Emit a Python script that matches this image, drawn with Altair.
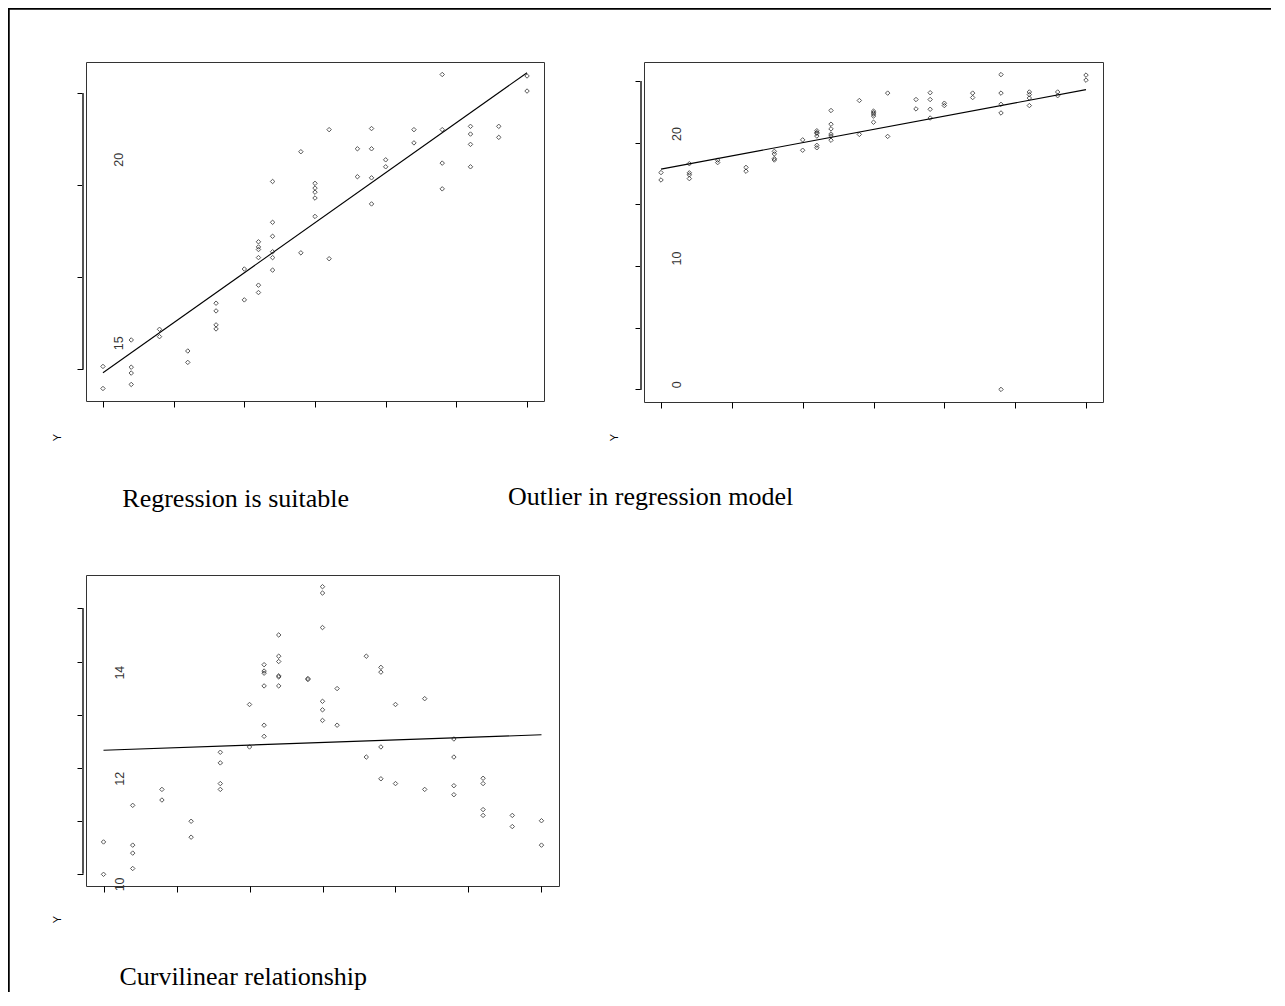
import altair as alt
import pandas as pd

# ---------------- data ----------------
# Panel 1 / 2 : "Regression is suitable" (same cloud, panel 2 adds one outlier)
x_fit = [0, 0,
         2, 2, 2, 2,
         4, 4,
         6, 6,
         8, 8, 8, 8,
         10, 10,
         11, 11, 11, 11, 11, 11,
         12, 12, 12, 12, 12, 12,
         14, 14,
         15, 15, 15, 15, 15,
         16, 16,
         18, 18,
         19, 19, 19, 19,
         20, 20,
         22, 22,
         24, 24, 24, 24,
         26, 26, 26, 26,
         28, 28,
         30, 30]
y_fit = [17.57, 16.97,
         18.29, 17.55, 17.39, 17.08,
         18.58, 18.38,
         17.99, 17.68,
         19.29, 19.08, 18.70, 18.59,
         20.22, 19.38,
         20.96, 20.82, 20.75, 20.53, 19.78, 19.58,
         22.60, 21.49, 21.11, 20.69, 20.53, 20.19,
         23.41, 20.66,
         22.55, 22.42, 22.31, 22.15, 21.65,
         24.01, 20.50,
         23.49, 22.73,
         24.04, 23.49, 22.70, 21.99,
         23.19, 23.00,
         24.01, 23.65,
         25.51, 24.01, 23.10, 22.40,
         24.10, 23.89, 23.61, 23.00,
         24.10, 23.80,
         25.47, 25.06]
x_outlier = [24]
y_outlier = [0.0]

# Panel 3 : "Curvilinear relationship"
x_curve = [0, 0,
           2, 2, 2, 2,
           4, 4,
           6, 6,
           8, 8, 8, 8,
           10, 10,
           11, 11, 11, 11, 11, 11,
           12, 12, 12, 12, 12, 12,
           14, 14,
           15, 15, 15, 15, 15, 15,
           16, 16,
           18, 18,
           19, 19, 19, 19,
           20, 20,
           22, 22,
           24, 24, 24, 24,
           26, 26, 26, 26,
           28, 28,
           30, 30]
y_curve = [10.60, 9.99,
           11.29, 10.54, 10.39, 10.10,
           11.59, 11.39,
           10.99, 10.69,
           12.29, 12.09, 11.70, 11.59,
           13.19, 12.39,
           13.94, 13.82, 13.78, 13.54, 12.80, 12.59,
           14.50, 14.10, 14.00, 13.73, 13.71, 13.54,
           13.68, 13.66,
           15.41, 15.29, 14.64, 13.25, 13.09, 12.89,
           13.49, 12.80,
           14.10, 12.20,
           13.89, 13.80, 12.39, 11.79,
           13.19, 11.70,
           13.30, 11.59,
           12.54, 12.20, 11.66, 11.49,
           11.80, 11.70, 11.21, 11.10,
           11.10, 10.89,
           11.00, 10.54]

x_ticks = [0, 5, 10, 15, 20, 25, 30]
y_ticks_1 = [17.5, 20, 22.5, 25]
y_ticks_2 = [0, 5, 10, 15, 20, 25]
y_ticks_3 = [10, 11, 12, 13, 14, 15]

# rotated tick-label texts as they appear in the picture
lab1_text = ["20", "15"]
lab1_y = [23.19, 18.2]
lab2_text = ["20", "10", "0"]
lab2_y = [20.69, 10.6, 0.38]
lab3_text = ["14", "12", "10"]
lab3_y = [13.79, 11.79, 9.8]
lab_x = 1.1

titles = ["Regression is suitable", "Outlier in regression model", "Curvilinear relationship"]

X_DOMAIN = [-1.2, 31.2]


def panel(xs, ys, labels, label_ys, ydomain, yticks, width, height,
          title, title_x, title_y, ytitle_x, ytitle_y, border=False):
    df = pd.DataFrame({"x": xs, "y": ys})
    X = alt.X("x:Q",
              scale=alt.Scale(domain=X_DOMAIN, nice=False, zero=False),
              axis=alt.Axis(values=x_ticks, labels=False, title=None, domain=False,
                            grid=False, tickSize=6, tickColor="black", tickWidth=1))
    Y = alt.Y("y:Q",
              scale=alt.Scale(domain=ydomain, nice=False, zero=False),
              axis=alt.Axis(values=yticks, labels=False, title="Y", domain=False,
                            grid=False, tickSize=6, offset=3, tickColor="black",
                            tickWidth=1, titleAngle=270, titleAlign="center",
                            titleBaseline="middle", titleX=ytitle_x, titleY=ytitle_y,
                            titleFont="Liberation Sans", titleFontSize=11,
                            titleFontWeight="normal", titleColor="black"))
    base = alt.Chart(df)
    pts = base.mark_point(shape="diamond", filled=False, size=20,
                          strokeWidth=1, color="#111").encode(x=X, y=Y)
    line = base.transform_regression("x", "y").mark_line(
        color="black", strokeWidth=1.1).encode(x=X, y=Y)
    lab_df = pd.DataFrame({"x": [lab_x] * len(labels), "y": label_ys, "label": labels})
    labs = alt.Chart(lab_df).mark_text(angle=270, fontSize=12.5, font="Liberation Sans",
                                       color="#333", align="center",
                                       baseline="middle").encode(x=X, y=Y, text="label:N")
    ax_df = pd.DataFrame({"y": [yticks[0]], "y2": [yticks[-1]]})
    axline = alt.Chart(ax_df).mark_rule(color="#555", strokeWidth=2).encode(
        x=alt.value(-3), y=Y, y2="y2:Q")
    frame = pd.DataFrame({"a": [0]})
    cap = alt.Chart(frame).mark_text(text=title, font="Liberation Serif", fontSize=26,
                                     color="black", align="left",
                                     baseline="alphabetic").encode(
        x=alt.value(title_x), y=alt.value(title_y))
    layers = [pts, line, labs, axline, cap]
    if border:
        top = alt.Chart(frame).mark_rule(color="black", strokeWidth=2.5).encode(
            x=alt.value(-78.5), x2=alt.value(1185), y=alt.value(-53.5))
        left = alt.Chart(frame).mark_rule(color="black", strokeWidth=2.5).encode(
            x=alt.value(-77.5), y=alt.value(-54.5), y2=alt.value(930))
        layers += [top, left]
    return alt.layer(*layers).properties(width=width, height=height)


p1 = panel(x_fit, y_fit, lab1_text, lab1_y, [16.63, 25.85], y_ticks_1, 458, 339,
           titles[0], 36.3, 445, -26, 375, border=True)
p2 = panel(x_fit + x_outlier, y_fit + y_outlier, lab2_text, lab2_y, [-1.02, 26.53],
           y_ticks_2, 459, 340, titles[1], -136, 443, -27, 375)
p3 = panel(x_curve, y_curve, lab3_text, lab3_y, [9.77, 15.63], y_ticks_3, 473, 311,
           titles[2], 33.4, 410, -26, 344)

chart = alt.concat(p1, p2, p3, columns=2, spacing={"row": 173, "column": 85},
                   bounds="flush", align="each").properties(
    padding={"left": -3, "top": -3, "right": 0, "bottom": 0},
).configure(font="Liberation Sans").configure_view(stroke="#333", strokeWidth=1)

chart.save("out.html", embed_options={"renderer": "svg", "actions": False})
